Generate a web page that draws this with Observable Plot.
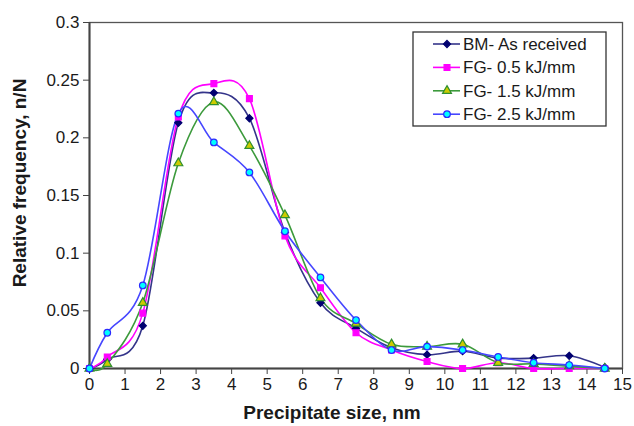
<!DOCTYPE html>
<html><head><meta charset="utf-8">
<script src="https://cdn.jsdelivr.net/npm/d3@7"></script>
<script src="https://cdn.jsdelivr.net/npm/@observablehq/plot@0.6"></script>
<style>
body{margin:0;background:#fff;}
#chart{width:634px;height:426px;}
</style></head><body><div id="chart"></div>
<script>
// ---- data ----
const sizes = [0, 0.5, 1.5, 2.5, 3.5, 4.5, 5.5, 6.5, 7.5, 8.5, 9.5, 10.5, 11.5, 12.5, 13.5, 14.5];
const seriesNames = ["BM- As received", "FG- 0.5 kJ/mm", "FG- 1.5 kJ/mm", "FG- 2.5 kJ/mm"];
const bm   = [0, 0.008, 0.037, 0.213, 0.239, 0.217, 0.118, 0.057, 0.035, 0.018, 0.012, 0.015, 0.009, 0.009, 0.011, 0.001];
const fg05 = [0, 0.010, 0.048, 0.218, 0.247, 0.234, 0.115, 0.070, 0.031, 0.016, 0.006, 0.000, 0.005, 0.000, 0.000, 0.000];
const fg15 = [0, 0.004, 0.057, 0.178, 0.231, 0.193, 0.133, 0.061, 0.039, 0.021, 0.019, 0.021, 0.005, 0.004, 0.002, 0.000];
const fg25 = [0, 0.031, 0.072, 0.221, 0.196, 0.170, 0.119, 0.079, 0.042, 0.016, 0.019, 0.016, 0.010, 0.005, 0.003, 0.000];
const xTicks = [0,1,2,3,4,5,6,7,8,9,10,11,12,13,14,15];
const yTicks = [0, 0.05, 0.1, 0.15, 0.2, 0.25, 0.3];
const xTitle = "Precipitate size, nm";
const yTitle = "Relative frequency, n/N";

// ---- styles ----
const styles = [
  {line: "#34348a", symbol: "diamond2", fill: "#000070", stroke: "#000070", r: 3.2},
  {line: "#ff00ff", symbol: "square", fill: "#ff00ff", stroke: "#ff00ff", r: 3.3},
  {line: "#3c9a3c", symbol: "triangle", fill: "#cccc00", stroke: "#2f8f2f", r: 3.3},
  {line: "#4646ff", symbol: "circle", fill: "#00ffff", stroke: "#2a2aff", r: 3.3}
];

const allSeries = [bm, fg05, fg15, fg25];
const rows = [];
allSeries.forEach((vals, i) => vals.forEach((v, j) => rows.push({series: seriesNames[i], idx: i, x: sizes[j], y: v})));

const font = "'Liberation Sans', Arial, sans-serif";

const marks = [
  Plot.frame({stroke: "#555", strokeWidth: 1.3}),
  Plot.axisX({ticks: xTicks, tickSize: 6, tickPadding: 3, label: null, fontSize: 17, stroke: "#444"}),
  Plot.axisY({ticks: yTicks, tickSize: 6, tickPadding: 4, label: null, fontSize: 17, stroke: "#444",
    tickFormat: d => String(+d.toFixed(2))}),
  Plot.ruleY([0], {stroke: "#444", strokeWidth: 2}),
  Plot.ruleX([0], {stroke: "#444", strokeWidth: 2})
];
seriesNames.forEach((name, i) => {
  const data = rows.filter(r => r.idx === i);
  marks.push(Plot.line(data, {x: "x", y: "y", stroke: styles[i].line, strokeWidth: 1.6, curve: "cardinal"}));
});
seriesNames.forEach((name, i) => {
  const data = rows.filter(r => r.idx === i);
  marks.push(Plot.dot(data, {x: "x", y: "y", symbol: () => styles[i].symbol, r: styles[i].r,
    fill: styles[i].fill, stroke: styles[i].stroke, strokeWidth: 1.2}));
});

const chart = Plot.plot({
  width: 634, height: 426,
  marginLeft: 89, marginRight: 12, marginTop: 22, marginBottom: 58,
  style: {fontFamily: font, fontSize: "17px", color: "#1a1a1a", background: "#fff"},
  x: {domain: [0, 15]},
  y: {domain: [0, 0.3]},
  symbol: {type: "identity"},
  marks
});
document.getElementById("chart").appendChild(chart);

// ---- axis titles and legend ----
const svg = d3.select(chart);
svg.append("text").attr("x", 332).attr("y", 419).attr("text-anchor", "middle")
  .attr("font-family", font).attr("font-size", 19).attr("font-weight", "bold").attr("fill", "#1a1a1a")
  .text(xTitle);
svg.append("text").attr("transform", "translate(26,183) rotate(-90)").attr("text-anchor", "middle")
  .attr("font-family", font).attr("font-size", 19).attr("font-weight", "bold").attr("fill", "#1a1a1a")
  .text(yTitle);

const lg = svg.append("g").attr("text-anchor", "start");
lg.append("rect").attr("x", 413).attr("y", 32).attr("width", 193).attr("height", 94)
  .attr("fill", "#fff").attr("stroke", "#333").attr("stroke-width", 1.3);
const symMap = {diamond2: d3.symbolDiamond2, square: d3.symbolSquare, triangle: d3.symbolTriangle, circle: d3.symbolCircle};
seriesNames.forEach((name, i) => {
  const cy = 44 + i * 23.4;
  const s = styles[i];
  lg.append("line").attr("x1", 433).attr("x2", 460).attr("y1", cy).attr("y2", cy)
    .attr("stroke", s.line).attr("stroke-width", 1.6);
  lg.append("path").attr("d", d3.symbol(symMap[s.symbol], s.r * s.r * Math.PI)())
    .attr("transform", `translate(447,${cy})`).attr("fill", s.fill).attr("stroke", s.stroke).attr("stroke-width", 1.2);
  lg.append("text").attr("x", 463).attr("y", cy).attr("dy", "0.35em").attr("text-anchor", "start")
    .attr("font-family", font).attr("font-size", 17).attr("fill", "#1a1a1a").text(name);
});
</script>
</body></html>
